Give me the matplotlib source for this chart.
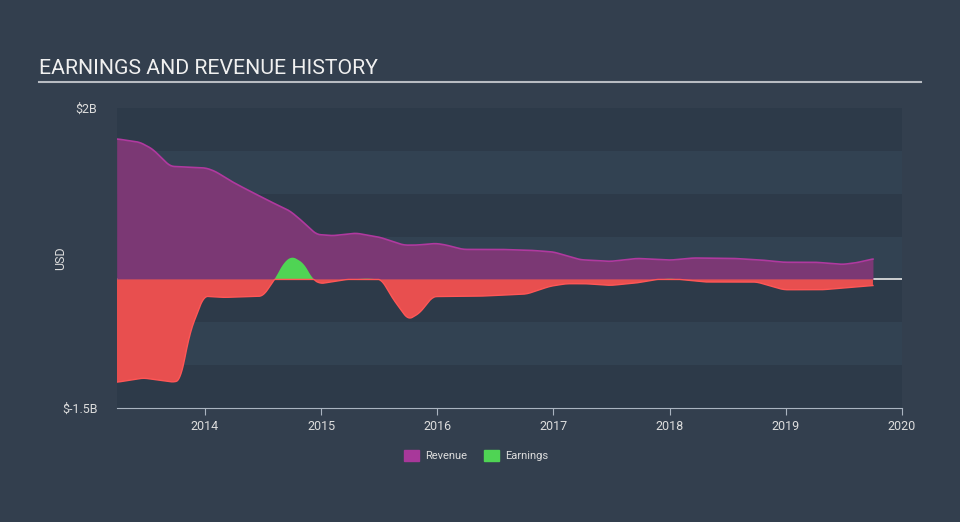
import numpy as np
from matplotlib import pyplot as plt
from matplotlib.patches import Rectangle

# values in billions USD
rev_t = [2013.24, 2013.44, 2013.55, 2013.70, 2014.01, 2014.09, 2014.22, 2014.33, 2014.56,
         2014.73, 2014.82, 2014.96, 2015.10, 2015.30, 2015.51, 2015.71, 2015.82, 2015.99,
         2016.08, 2016.22, 2016.54, 2016.80, 2017.00, 2017.23, 2017.49, 2017.72, 2018.01,
         2018.20, 2018.55, 2018.80, 2018.98, 2019.26, 2019.49, 2019.61, 2019.75]
rev_v = [1.64, 1.60, 1.52, 1.32, 1.30, 1.26, 1.15, 1.07, 0.91,
         0.80, 0.70, 0.525, 0.51, 0.54, 0.49, 0.40, 0.40, 0.42,
         0.40, 0.35, 0.35, 0.34, 0.32, 0.23, 0.21, 0.245, 0.225,
         0.25, 0.245, 0.225, 0.20, 0.20, 0.175, 0.195, 0.24]

earn_t = [2013.24, 2013.47, 2013.74, 2013.79, 2013.87, 2013.99, 2014.16, 2014.50, 2014.60,
          2014.68, 2014.75, 2014.85, 2014.93, 2014.99, 2015.22, 2015.40, 2015.52, 2015.62,
          2015.75, 2015.85, 2015.96, 2016.37, 2016.77, 2016.97, 2017.11, 2017.28, 2017.49,
          2017.72, 2017.89, 2018.01, 2018.16, 2018.30, 2018.75, 2018.98, 2019.32, 2019.75]
earn_v = [-1.20, -1.15, -1.20, -1.17, -0.62, -0.195, -0.21, -0.195, 0.0,
          0.20, 0.27, 0.19, 0.0, -0.05, 0.0, 0.01, 0.0, -0.23,
          -0.47, -0.39, -0.20, -0.195, -0.17, -0.08, -0.05, -0.05, -0.07,
          -0.04, 0.0, 0.01, -0.01, -0.03, -0.03, -0.12, -0.12, -0.07]

years = [2014, 2015, 2016, 2017, 2018, 2019, 2020]

bg = '#333f4e'
fig = plt.figure(figsize=(9.6, 5.22), dpi=100, facecolor=bg)
ax = fig.add_axes([117 / 960, 1 - 408 / 522, 785 / 960, 300 / 522])
ax.set_facecolor(bg)

# horizontal bands
for i, lo in enumerate(np.arange(-1.5, 2.0, 0.5)):
    c = '#2d3a49' if i % 2 == 0 else '#324252'
    ax.add_patch(Rectangle((2013.0, lo), 8, 0.5, facecolor=c, edgecolor='none', zorder=0))

ax.axhline(0, color='#e8e8e8', lw=1.2, zorder=1)

# smooth the lines a bit
def smooth(t, v):
    tt = np.linspace(t[0], t[-1], 800)
    vv = np.interp(tt, t, v)
    k = np.ones(9) / 9
    pad = np.concatenate([np.full(4, vv[0]), vv, np.full(4, vv[-1])])
    return tt, np.convolve(pad, k, mode='valid')

rt, rv = smooth(rev_t, rev_v)
et, ev = smooth(earn_t, earn_v)

ax.fill_between(rt, 0, rv, color='#7b3874', lw=0, zorder=2)
ax.plot(rt, rv, color='#b0399f', lw=1.2, zorder=3)
ax.fill_between(et, 0, ev, where=ev <= 0, interpolate=True, color='#e84f4f', lw=0, zorder=4)
ax.fill_between(et, 0, ev, where=ev >= 0, interpolate=True, color='#4fd454', lw=0, zorder=4)
ax.plot(et, np.minimum(ev, 0), color='#ff5656', lw=1.0, zorder=5)

ax.set_xlim(2013.243, 2020.0)
ax.set_ylim(-1.5, 2.0)
ax.set_xticks(years)
ax.set_xticklabels([str(y) for y in years], color='#dddddd', fontsize=9, family='Roboto')
ax.set_yticks([2.0, -1.5])
ax.set_yticklabels(['$2B', '$-1.5B'], color='#dddddd', fontsize=9, family='Roboto')
ax.tick_params(axis='y', length=0, pad=14)
ax.tick_params(axis='x', length=5, color='#aab4c0', pad=4)
ax.set_ylabel('USD', color='#dddddd', fontsize=9, family='Roboto')
ax.yaxis.set_label_coords(-0.0637, 0.5)
for s in ['top', 'right', 'left']:
    ax.spines[s].set_visible(False)
ax.spines['bottom'].set_color('#aab4c0')

fig.text(39 / 960, 1 - 69 / 522, 'EARNINGS AND REVENUE HISTORY', color='#f0f0f0',
         fontsize=15.3, family='Roboto', va='center', ha='left')
fig.add_artist(plt.Line2D([39 / 960, 921 / 960], [1 - 82 / 522, 1 - 82 / 522],
                          color='#b8bcc2', lw=1.5))

# legend
fig.patches.append(Rectangle((404 / 960, 1 - 461 / 522), 15 / 960, 11 / 522,
                             transform=fig.transFigure, color='#a8389a'))
fig.text(425 / 960, 1 - 456 / 522, 'Revenue', color='#dddddd', fontsize=8,
         family='Roboto', va='center')
fig.patches.append(Rectangle((484 / 960, 1 - 461 / 522), 15 / 960, 11 / 522,
                             transform=fig.transFigure, color='#4fd454'))
fig.text(505 / 960, 1 - 456 / 522, 'Earnings', color='#dddddd', fontsize=8,
         family='Roboto', va='center')

plt.savefig('out.png', dpi=100, facecolor=bg)
